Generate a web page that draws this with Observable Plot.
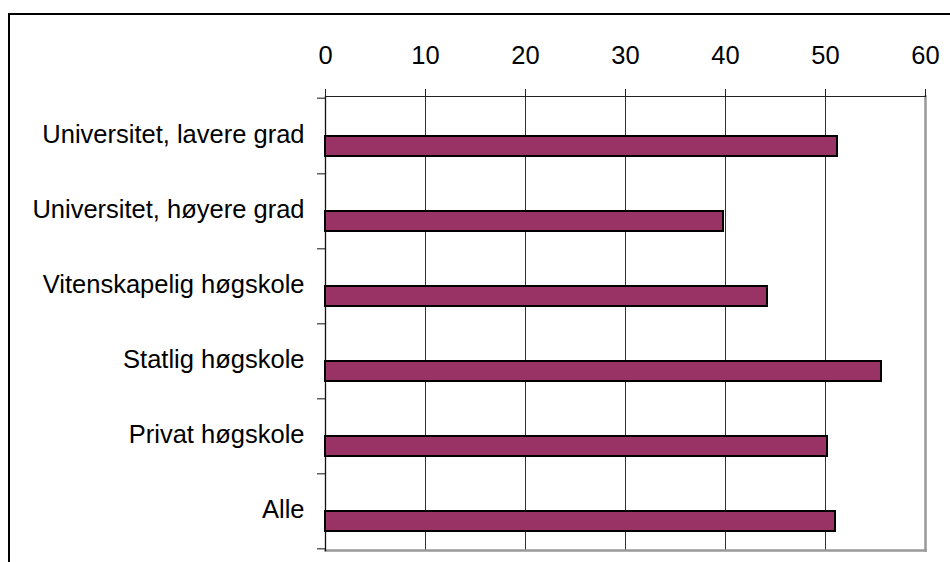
<!DOCTYPE html>
<html><head><meta charset="utf-8">
<script src="https://cdn.jsdelivr.net/npm/d3@7"></script>
<script src="https://cdn.jsdelivr.net/npm/@observablehq/plot@0.6"></script>
<style>
body{margin:0;background:#fff;}
#wrap{position:relative;width:950px;height:562px;overflow:hidden;background:#fff;}
#frame{position:absolute;left:8px;top:13px;width:1000px;height:700px;border-left:2.5px solid #000;border-top:2.5px solid #000;}
#chart{position:absolute;left:0;top:0;}
</style></head><body>
<div id="wrap"><div id="frame"></div><div id="chart"></div></div>
<script>
const categories = ["Universitet, lavere grad", "Universitet, høyere grad", "Vitenskapelig høgskole", "Statlig høgskole", "Privat høgskole", "Alle"];
const values = [51.2, 39.8, 44.2, 55.6, 50.2, 51.0];
const xTicks = [0, 10, 20, 30, 40, 50, 60];
const gridTicks = [10, 20, 30, 40, 50];
const data = categories.map((c, i) => ({category: c, value: values[i]}));

const W = 950, H = 562, mL = 325, mR = 25, mT = 96, mB = 12;
const bw = (H - mT - mB) / categories.length;

const chart = Plot.plot({
  width: W, height: H,
  marginLeft: mL, marginRight: mR, marginTop: mT, marginBottom: mB,
  style: {fontFamily: "'Liberation Sans', Arial, sans-serif", fontSize: "25px", color: "#000", background: "transparent", overflow: "visible"},
  x: {domain: [0, 60], axis: null},
  y: {domain: categories, padding: 0, axis: null},
  marks: [
    Plot.ruleX(gridTicks, {stroke: "#333", strokeWidth: 1}),
    Plot.frame({anchor: "right", stroke: "#999", strokeWidth: 2.5}),
    Plot.frame({anchor: "bottom", stroke: "#999", strokeWidth: 2.5}),
    Plot.frame({anchor: "top", stroke: "#222", strokeWidth: 1.2}),
    Plot.frame({anchor: "left", stroke: "#111", strokeWidth: 1.3}),
    Plot.axisX(xTicks, {anchor: "top", tickSize: 8, tickPadding: 25, stroke: "#222", fontSize: 25.5, label: null}),
    Plot.axisY({anchor: "left", tickSize: 0, tickPadding: 21, fontSize: 25.5, dy: -1.5, label: null}),
    Plot.axisY({anchor: "left", tickSize: 8, tickFormat: () => "", dy: bw / 2, stroke: "#111", label: null}),
    Plot.axisY([categories[0]], {anchor: "left", tickSize: 8, tickFormat: () => "", dy: -bw / 2, stroke: "#111", label: null}),
    Plot.barX(data, {x: "value", y: "category", fill: "#993366", stroke: "#000", strokeWidth: 2, insetTop: 38, insetBottom: 17})
  ]
});
document.getElementById("chart").appendChild(chart);
</script>
</body></html>
